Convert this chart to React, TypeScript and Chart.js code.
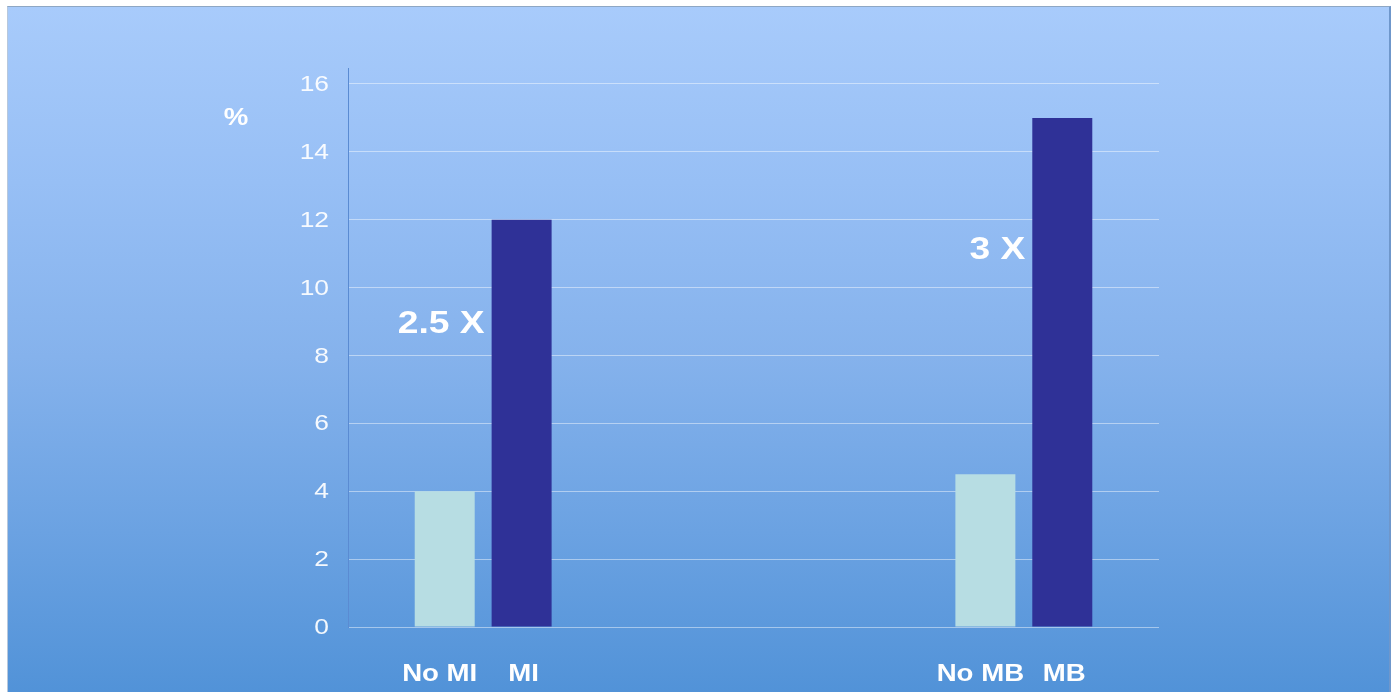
import React, { useEffect, useRef } from "react";
import { Chart, registerables } from "chart.js";

Chart.register(...registerables);

// Event rates (%) without and with each condition
const groups = ["MI", "", "MB"];
const withoutValues = [4, null, 4.5];
const withValues = [12, null, 15];
const withoutLabels = ["No MI", "", "No MB"];
const withLabels = ["MI", "", "MB"];
const ratioLabels = ["2.5 X", "", "3 X"];
const ratioLevels = [8.9, null, 11.1];
const yUnit = "%";

const FONT = "'Liberation Sans', Arial, Helvetica, sans-serif";
const STRETCH = 1.2;

function wideText(
  ctx: CanvasRenderingContext2D,
  text: string,
  x: number,
  y: number,
  font: string,
  align: CanvasTextAlign,
  color: string
) {
  ctx.save();
  ctx.font = font;
  ctx.fillStyle = color;
  ctx.textAlign = align;
  ctx.textBaseline = "middle";
  ctx.translate(x, y);
  ctx.scale(STRETCH, 1);
  ctx.fillText(text, 0, 0);
  ctx.restore();
}

const slideText = {
  id: "slideText",
  afterDraw(chart: any) {
    const { ctx, chartArea, scales } = chart;
    const y = scales.y;

    // y tick labels
    y.ticks.forEach((t: any) => {
      wideText(
        ctx,
        String(t.value),
        chartArea.left - 19,
        y.getPixelForValue(t.value) + 1,
        `22px ${FONT}`,
        "right",
        "rgba(255,255,255,0.93)"
      );
    });

    // unit label
    wideText(ctx, yUnit, chartArea.left - 112, y.getPixelForValue(15) + 1, `bold 23px ${FONT}`, "center", "#ffffff");

    // labels under each bar
    const metaA = chart.getDatasetMeta(0);
    const metaB = chart.getDatasetMeta(1);
    const labelY = chartArea.bottom + 48;
    groups.forEach((_, i) => {
      const a = metaA.data[i];
      const b = metaB.data[i];
      if (withoutLabels[i]) {
        wideText(ctx, withoutLabels[i], a.x - 5, labelY, `bold 23px ${FONT}`, "center", "#ffffff");
      }
      if (withLabels[i]) {
        wideText(ctx, withLabels[i], b.x + 2, labelY, `bold 23px ${FONT}`, "center", "#ffffff");
      }
      const level = ratioLevels[i];
      if (ratioLabels[i] && level !== null) {
        const left = b.x - b.width / 2;
        wideText(ctx, ratioLabels[i], left - 7, y.getPixelForValue(level), `bold 31px ${FONT}`, "right", "#ffffff");
      }
    });
  },
};

export default function App() {
  const canvasRef = useRef<HTMLCanvasElement | null>(null);

  useEffect(() => {
    if (!canvasRef.current) return;
    const chart = new Chart(canvasRef.current, {
      type: "bar",
      data: {
        labels: groups,
        datasets: [
          {
            label: "Without",
            data: withoutValues,
            backgroundColor: "#b7dde3",
            categoryPercentage: 0.569,
            barPercentage: 0.78,
          },
          {
            label: "With",
            data: withValues,
            backgroundColor: "#2f3197",
            categoryPercentage: 0.569,
            barPercentage: 0.78,
          },
        ],
      },
      options: {
        responsive: false,
        animation: false,
        layout: { padding: { left: 0, top: 68, right: 236, bottom: 65 } },
        plugins: { legend: { display: false }, tooltip: { enabled: false } },
        scales: {
          x: { display: false },
          y: {
            min: 0,
            max: 16.47,
            afterFit: (scale: any) => {
              scale.width = 348;
            },
            ticks: { stepSize: 2, includeBounds: false, display: false },
            grid: { color: "rgba(255,255,255,0.45)", lineWidth: 1, drawTicks: false },
            border: { display: true, color: "#5a8bd2", width: 1 },
          },
        },
      },
      plugins: [slideText],
    });
    return () => chart.destroy();
  }, []);

  return (
    <div
      style={{
        position: "fixed",
        left: 0,
        top: 0,
        width: 1395,
        height: 692,
        background: "#ffffff",
        overflow: "hidden",
      }}
    >
      <div
        style={{
          position: "absolute",
          left: 7,
          top: 6,
          width: 1381,
          height: 700,
          background:
            "linear-gradient(to bottom, #a8cbfb 0%, #97bff5 25%, #85b2ec 50%, #6ba2e2 75%, #4f91d7 100%)",
          borderTop: "1px solid #8ea7c4",
          borderLeft: "1px solid #b8c8dc",
          borderRight: "2px solid #6f97cb",
        }}
      />
      <canvas
        ref={canvasRef}
        width={1395}
        height={692}
        style={{ position: "absolute", left: 0, top: 0 }}
      />
    </div>
  );
}
